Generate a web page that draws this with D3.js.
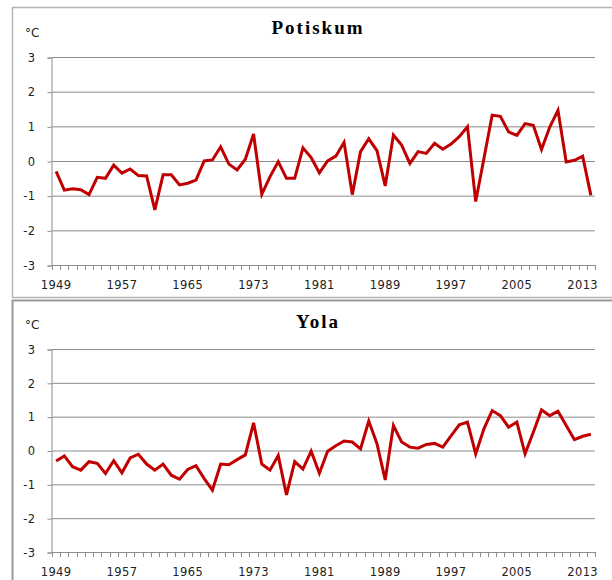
<!DOCTYPE html>
<html>
<head>
<meta charset="utf-8">
<script src="https://cdn.jsdelivr.net/npm/d3@7/dist/d3.min.js"></script>
<style>
  body { margin: 0; background: #fff; }
  svg { display: block; }
  .tick text { font-family: "DejaVu Sans", Verdana, sans-serif; font-size: 11.5px; fill: #222; letter-spacing: 0.4px; }
  .title { font-family: "Liberation Serif", "Times New Roman", serif; font-weight: bold; font-size: 19px; letter-spacing: 2px; }
  .unit { font-family: "DejaVu Sans", Verdana, sans-serif; font-size: 12px; fill: #222; }
</style>
</head>
<body>
<svg id="chart" width="612" height="580"></svg>
<script>
// anomaly series, one value per year 1949-2014
var years = d3.range(1949, 2015);
var yearLabels = [1949, 1957, 1965, 1973, 1981, 1989, 1997, 2005, 2013];
var yTicks = [-3, -2, -1, 0, 1, 2, 3];

var potiskum = [
    -0.3, -0.84, -0.8, -0.83, -0.97, -0.47, -0.5, -0.12, -0.35, -0.23,
    -0.42, -0.43, -1.41, -0.4, -0.4, -0.69, -0.64, -0.55, 0.0, 0.03,
    0.41, -0.09, -0.26, 0.05, 0.78, -0.96, -0.45, -0.02, -0.5, -0.5,
    0.38, 0.1, -0.34, 0.0, 0.14, 0.54, -0.97, 0.27, 0.64, 0.3,
    -0.72, 0.75, 0.46, -0.07, 0.27, 0.22, 0.51, 0.34, 0.49, 0.7,
    0.99, -1.17, 0.07, 1.32, 1.29, 0.84, 0.74, 1.08, 1.03, 0.33,
    0.98, 1.46, -0.03, 0.02, 0.14, -0.99
];
var yola = [
    -0.31, -0.16, -0.48, -0.58, -0.33, -0.38, -0.68, -0.3, -0.66, -0.22,
    -0.11, -0.4, -0.58, -0.4, -0.73, -0.85, -0.56, -0.45, -0.83, -1.17,
    -0.4, -0.42, -0.27, -0.13, 0.82, -0.4, -0.58, -0.15, -1.31, -0.33,
    -0.55, -0.02, -0.67, -0.02, 0.14, 0.28, 0.25, 0.05, 0.87, 0.2,
    -0.87, 0.74, 0.25, 0.1, 0.07, 0.18, 0.21, 0.1, 0.43, 0.76,
    0.84, -0.1, 0.64, 1.18, 1.03, 0.69, 0.84, -0.1, 0.54, 1.2,
    1.03, 1.16, 0.74, 0.32, 0.42, 0.48
];

var svg = d3.select('#chart');

var x = d3.scaleBand().domain(years).range([52, 595]).paddingInner(0).paddingOuter(0);

// frames
svg.append('rect').attr('x', 12.5).attr('y', 7.5).attr('width', 620).attr('height', 290)
    .attr('fill', 'none').attr('stroke', '#b5b5b5').attr('stroke-width', 1.5);
svg.append('rect').attr('x', 12.5).attr('y', 300.5).attr('width', 620).attr('height', 300)
    .attr('fill', 'none').attr('stroke', '#999').attr('stroke-width', 2);

function panel(config) {
    var y = d3.scaleLinear().domain([-3, 3]).range([config.bottom, config.top]);
    var g = svg.append('g');

    // horizontal grid
    g.append('g').selectAll('line').data(yTicks.slice(1)).enter().append('line')
        .attr('x1', x.range()[0]).attr('x2', x.range()[1])
        .attr('y1', d => y(d) + 0.5).attr('y2', d => y(d) + 0.5)
        .attr('stroke', '#8c8c8c').attr('stroke-width', 1);

    // y axis, plain hyphen minus like the original
    var yAxis = g.append('g').attr('transform', 'translate(' + (x.range()[0] - 0.5) + ',0.5)')
        .call(d3.axisLeft(y).tickValues(yTicks).tickFormat(d => String(d)).tickSize(4).tickPadding(12));
    yAxis.select('.domain').attr('stroke', '#8c8c8c');
    yAxis.selectAll('.tick line').attr('stroke', '#8c8c8c');

    // x axis line + a tick at each category boundary
    g.append('line')
        .attr('x1', x.range()[0]).attr('x2', x.range()[1])
        .attr('y1', y(-3) + 0.5).attr('y2', y(-3) + 0.5)
        .attr('stroke', '#8c8c8c');
    var bounds = years.map(d => x(d)).concat([x.range()[1]]);
    g.append('g').selectAll('line').data(bounds).enter().append('line')
        .attr('x1', d => Math.round(d) + 0.5).attr('x2', d => Math.round(d) + 0.5)
        .attr('y1', y(-3)).attr('y2', y(-3) + 5)
        .attr('stroke', '#8c8c8c');

    var xAxis = g.append('g').attr('transform', 'translate(0,' + y(-3) + ')')
        .call(d3.axisBottom(x).tickValues(yearLabels).tickSize(0).tickPadding(16));
    xAxis.select('.domain').remove();

    // series
    var line = d3.line()
        .x((d, i) => x(years[i]) + x.bandwidth() / 2)
        .y(d => y(d));
    g.append('path').datum(config.data)
        .attr('d', line)
        .attr('fill', 'none')
        .attr('stroke', '#c00000')
        .attr('stroke-width', 3)
        .attr('stroke-linejoin', 'miter');

    g.append('text').attr('class', 'title')
        .attr('x', 318).attr('y', config.titleY)
        .attr('text-anchor', 'middle')
        .text(config.title);
    g.append('text').attr('class', 'unit')
        .attr('x', 25).attr('y', config.top - 20)
        .text('°C');
}

panel({ data: potiskum, title: 'Potiskum', top: 57, bottom: 265, titleY: 34 });
panel({ data: yola, title: 'Yola', top: 349, bottom: 552, titleY: 328 });
</script>
</body>
</html>
